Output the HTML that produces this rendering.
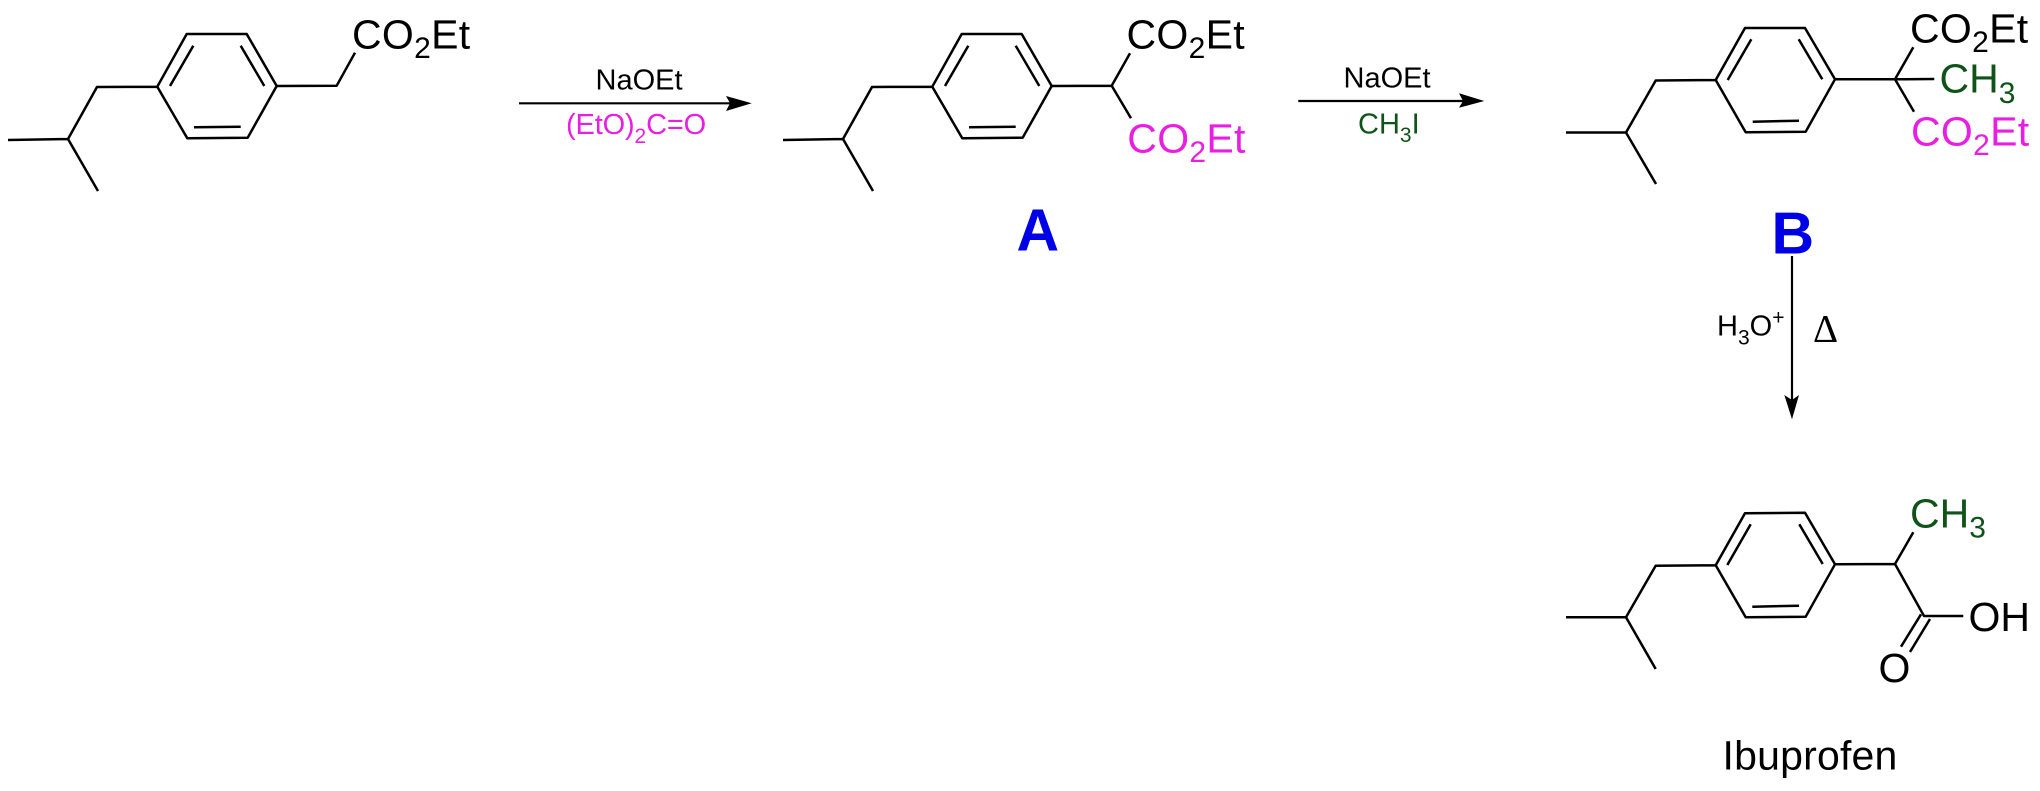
<!DOCTYPE html>
<html><head><meta charset="utf-8"><style>
html,body{margin:0;padding:0;background:#fff}
svg{display:block}
text{font-family:"Liberation Sans",Arial,sans-serif;fill:#000}
.b{fill:none;stroke:#000;stroke-width:2.5;stroke-linecap:butt;stroke-linejoin:round}
.a{fill:none;stroke:#000;stroke-width:2.2}
.l{font-size:41px}.s{font-size:29px}
.e{letter-spacing:.3px}
.m{fill:#e81fe2}.g{fill:#0f5319}
.k{font-weight:bold;fill:#0000e6}
</style></head><body>
<svg width="2040" height="791" viewBox="0 0 2040 791" xmlns="http://www.w3.org/2000/svg">
<rect width="2040" height="791" fill="#fff"/>

<path class="b" d="M8 140L68 139L98 191M68 139L97 87L157.300 86.700L186.700 34L246.700 34L276.700 86L247.700 137.700L187.300 138.300L157.300 86.700M276.700 86L336.700 85.700L355 52.700M193.300 45.700L170 86M240.700 45.700L264.300 86M194 127.300L240.700 126.700"/>
<text class="l e" x="352" y="48.300">CO<tspan font-size="30" dy="9.500">2</tspan><tspan dy="-9.500">Et</tspan></text>

<text class="s" x="595.500" y="89.300">NaOEt</text>
<path class="a" d="M519 103.300H735"/><path d="M726 96L751.700 103.300L726 111L730 103.300Z"/>
<text class="s m" x="566" y="134" style="letter-spacing:-.15px">(EtO)<tspan font-size="21" dy="9" class="m">2</tspan><tspan dy="-9" class="m">C=O</tspan></text>

<path class="b" d="M783 140L843 139L873 191M843 139L872 87L932.300 86.700L961.700 34L1021.700 34L1051.700 86L1022.700 137.700L962.300 138.300L932.300 86.700M1051.700 86L1111.700 85.700L1130 53.300M1111.700 85.700L1131 118.300M968.300 45.700L945 86M1015.700 45.700L1039.300 86M969 127.300L1015.700 126.700"/>
<text class="l e" x="1126.500" y="48.300">CO<tspan font-size="30" dy="9.500">2</tspan><tspan dy="-9.500">Et</tspan></text>
<text class="l e m" x="1127.300" y="152.300">CO<tspan font-size="30" dy="9.500" class="m">2</tspan><tspan dy="-9.500" class="m">Et</tspan></text>
<text class="k" x="1016.500" y="250.500" font-size="59">A</text>

<text class="s" x="1343.500" y="87.700">NaOEt</text>
<path class="a" d="M1298.300 101H1468"/><path d="M1459 93.300L1484.300 101L1459 107.700L1463 101Z"/>
<text class="s g" x="1358" y="133.300">CH<tspan font-size="21" dy="8.500" class="g">3</tspan><tspan dy="-8.500" class="g">I</tspan></text>

<path class="b" d="M1566 132.500L1626 132.500L1656 184M1626 132.500L1655.700 80.500L1715.700 80L1745 28L1805 28L1835 79.300L1805.700 131.700L1745.700 132.300L1715.700 80M1835 79.300L1895 79.300L1913.300 47.300M1895 79.300L1914 111.700M1895 79.300L1934.300 79M1751.300 39.300L1727.700 80M1798.700 39.300L1822.300 79.300M1752.700 121.700L1799 120.700"/>
<text class="l e" x="1910" y="42.700">CO<tspan font-size="30" dy="9.500">2</tspan><tspan dy="-9.500">Et</tspan></text>
<text class="l g" x="1939.500" y="92.700">CH<tspan font-size="30" dy="10.500" class="g">3</tspan></text>
<text class="l e m" x="1911" y="145.700">CO<tspan font-size="30" dy="9.500" class="m">2</tspan><tspan dy="-9.500" class="m">Et</tspan></text>
<text class="k" x="1771.500" y="253.300" font-size="59">B</text>

<path class="a" d="M1792 256V405"/><path d="M1784.300 395L1792 419.300L1799 395L1792 400Z"/>
<text class="s" x="1717" y="335.700">H<tspan font-size="21" dy="9">3</tspan><tspan dy="-9">O</tspan><tspan font-size="21" dy="-11">+</tspan></text>
<text x="1813" y="341.700" style="font-family:'Liberation Serif',serif;font-size:39px">Δ</text>

<path class="b" d="M1566 617.300L1626 617.300L1655.700 669M1626 617.300L1655.700 565.700L1715.700 565.300L1745 513.300L1805 512.700L1835 564.300L1805.700 616.700L1745.700 617.300L1715.700 565.300M1835 564.300L1895 564L1913.300 532.300M1895 564L1924 616L1963.300 616M1921 614.300L1901 646.700M1930 619L1910 652M1750.700 524.300L1727.300 565M1799.300 524.300L1822.700 564M1752.300 606.700L1799 605.700"/>
<text class="l g" x="1910" y="527.300">CH<tspan font-size="30" dy="10" class="g">3</tspan></text>
<text class="l" x="1968.500" y="631">OH</text>
<text class="l" x="1878.500" y="682">O</text>
<text x="1722.500" y="769.500" style="font-size:41px;letter-spacing:.2px">Ibuprofen</text>
</svg>
</body></html>
